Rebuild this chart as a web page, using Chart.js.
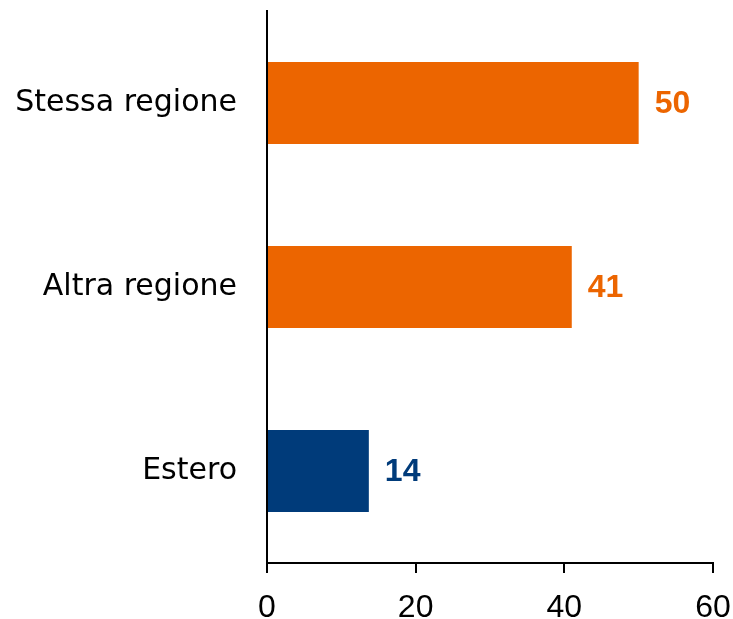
<!DOCTYPE html>
<html><head><meta charset="utf-8">
<script src="https://cdn.jsdelivr.net/npm/chart.js@4.4.1/dist/chart.umd.min.js"></script>
<style>html,body{margin:0;padding:0;background:#fff}#wrap{width:733px;height:619px}</style>
</head><body><div id="wrap"><canvas id="c" width="733" height="619"></canvas></div>
<script>
const categories = ["Stessa regione", "Altra regione", "Estero"];
const values = [50, 41, 13.7];
const barColors = ["#EC6500", "#EC6500", "#003B7A"];
const xTicks = [0, 20, 40, 60];

const labelPlugin = {
  id: 'vals',
  afterDatasetsDraw(chart) {
    const ctx = chart.ctx;
    const meta = chart.getDatasetMeta(0);
    ctx.save();
    ctx.font = 'bold 32px "Liberation Sans", Arial, sans-serif';
    ctx.textBaseline = 'middle';
    ctx.textAlign = 'left';
    meta.data.forEach((bar, i) => {
      ctx.fillStyle = barColors[i];
      ctx.fillText(String(Math.round(values[i])), bar.x + 16, bar.y + 1);
    });
    ctx.restore();
  }
};

new Chart(document.getElementById('c'), {
  type: 'bar',
  data: { labels: categories, datasets: [{ data: values, backgroundColor: barColors, barPercentage: 0.446, categoryPercentage: 1 }] },
  options: {
    indexAxis: 'y', responsive: false, animation: false,
    layout: { padding: { top: 11, right: 20, left: 0, bottom: 0 } },
    plugins: { legend: { display: false }, tooltip: { enabled: false } },
    scales: {
      x: {
        min: 0, max: 60,
        afterBuildTicks(s) { s.ticks = xTicks.map(v => ({ value: v })); },
        afterFit(s) { s.height = 56; s.paddingLeft = 0; s.paddingRight = 0; },
        grid: { display: true, drawOnChartArea: false, drawTicks: true, tickLength: 10, color: '#000', lineWidth: 2 },
        border: { display: true, color: '#000', width: 2 },
        ticks: { color: '#000', font: { family: '"Liberation Sans", Arial, sans-serif', size: 32 }, padding: 16, maxRotation: 0 }
      },
      y: {
        afterFit(s) { s.width = 267; s.paddingTop = 0; s.paddingBottom = 0; },
        grid: { display: false, drawTicks: false },
        border: { display: true, color: '#000', width: 2 },
        ticks: { color: '#000', font: { family: '"DejaVu Sans", sans-serif', size: 30 }, padding: 30 }
      }
    }
  },
  plugins: [labelPlugin]
});
</script></body></html>
